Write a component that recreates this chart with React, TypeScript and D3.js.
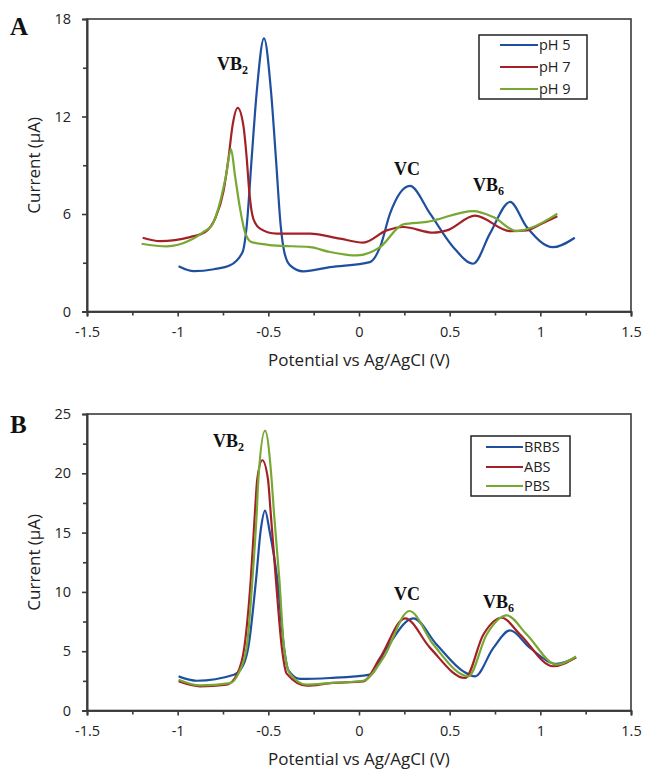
import React, { useEffect, useRef } from "react";
import * as d3 from "d3";

// ---------- Data ----------
const xTicks = [-1.5, -1, -0.5, 0, 0.5, 1, 1.5];
const xMinorTicks = [-1.25, -0.75, -0.25, 0.25, 0.75, 1.25];

const yTicksA = [0, 6, 12, 18];
const yMinorA = [3, 9, 15];
const yTicksB = [0, 5, 10, 15, 20, 25];
const yMinorB = [2.5, 7.5, 12.5, 17.5, 22.5];

const seriesNamesA = ["pH 5", "pH 7", "pH 9"];
const seriesNamesB = ["BRBS", "ABS", "PBS"];
const seriesColors = ["#1f4f9f", "#a32126", "#76a832"];

// Panel A
const pH5Potential = [-0.995, -0.91, -0.8, -0.711, -0.642, -0.619, -0.592, -0.564, -0.524, -0.485, -0.458, -0.432, -0.412, -0.38, -0.307, -0.16, 0.06, 0.116, 0.171, 0.281, 0.392, 0.52, 0.63, 0.722, 0.833, 0.925, 1.07, 1.19];
const pH5Current = [2.79, 2.48, 2.6, 2.84, 3.66, 5.3, 9.41, 13.52, 16.81, 13.52, 9.41, 5.3, 3.66, 2.84, 2.47, 2.73, 3.04, 3.96, 6.02, 7.73, 6.02, 3.96, 2.94, 4.79, 6.74, 5.2, 3.96, 4.54];

const pH7Potential = [-1.193, -1.097, -0.932, -0.849, -0.794, -0.748, -0.72, -0.697, -0.669, -0.638, -0.619, -0.605, -0.583, -0.546, -0.454, -0.27, -0.105, 0.024, 0.153, 0.244, 0.41, 0.484, 0.64, 0.833, 0.925, 0.998, 1.094];
const pH7Current = [4.54, 4.33, 4.58, 4.89, 5.71, 7.36, 9.41, 11.47, 12.53, 11.47, 9.41, 7.36, 5.71, 5.1, 4.79, 4.79, 4.48, 4.24, 4.99, 5.2, 4.85, 4.99, 5.9, 4.95, 4.99, 5.36, 5.86];

const pH9Potential = [-1.199, -1.06, -0.932, -0.859, -0.812, -0.776, -0.733, -0.706, -0.684, -0.656, -0.629, -0.592, -0.473, -0.27, -0.16, -0.013, 0.116, 0.244, 0.373, 0.63, 0.741, 0.87, 0.961, 1.094];
const pH9Current = [4.17, 4.01, 4.38, 4.89, 5.3, 6.33, 8.38, 9.99, 8.38, 6.33, 4.89, 4.27, 4.07, 3.96, 3.66, 3.45, 3.96, 5.36, 5.51, 6.18, 5.81, 4.95, 5.2, 6.02];

// Panel B
const brbsPotential = [-0.995, -0.895, -0.69, -0.656, -0.61, -0.568, -0.542, -0.518, -0.494, -0.45, -0.414, -0.39, -0.325, -0.16, 0.06, 0.153, 0.3, 0.428, 0.575, 0.64, 0.741, 0.833, 0.943, 1.09, 1.197];
const brbsCurrent = [2.88, 2.51, 3.02, 3.4, 5.36, 11.0, 15.2, 16.86, 15.2, 11.0, 5.36, 3.4, 2.66, 2.74, 3.02, 5.28, 7.77, 5.56, 3.3, 2.88, 5.28, 6.75, 5.28, 3.93, 4.49];

const absPotential = [-0.995, -0.877, -0.73, -0.671, -0.632, -0.597, -0.574, -0.561, -0.533, -0.502, -0.487, -0.458, -0.426, -0.399, -0.288, -0.16, 0.024, 0.116, 0.254, 0.392, 0.585, 0.686, 0.787, 0.888, 1.071, 1.197];
const absCurrent = [2.46, 2.03, 2.18, 3.11, 5.36, 11.0, 16.67, 19.5, 21.1, 19.5, 16.67, 11.0, 5.36, 3.11, 2.09, 2.31, 2.46, 4.43, 7.77, 5.28, 2.74, 6.41, 7.82, 6.41, 3.73, 4.49];

const pbsPotential = [-0.995, -0.877, -0.711, -0.665, -0.619, -0.588, -0.564, -0.555, -0.518, -0.482, -0.469, -0.439, -0.414, -0.381, -0.288, -0.16, 0.024, 0.134, 0.278, 0.41, 0.603, 0.704, 0.815, 0.925, 1.09, 1.197];
const pbsCurrent = [2.6, 2.12, 2.31, 3.11, 5.36, 11.0, 16.67, 19.5, 23.6, 19.5, 16.67, 11.0, 5.36, 3.11, 2.18, 2.31, 2.51, 4.43, 8.39, 5.56, 2.88, 6.41, 8.02, 6.41, 3.87, 4.55];

const seriesA = [
  { potential: pH5Potential, current: pH5Current },
  { potential: pH7Potential, current: pH7Current },
  { potential: pH9Potential, current: pH9Current },
];
const seriesB = [
  { potential: brbsPotential, current: brbsCurrent },
  { potential: absPotential, current: absCurrent },
  { potential: pbsPotential, current: pbsCurrent },
];

// annotations in data coordinates
const annotationsA = [
  { label: "VB", sub: "2", x: -0.783, y: 14.86 },
  { label: "VC", sub: "", x: 0.193, y: 8.38 },
  { label: "VB", sub: "6", x: 0.629, y: 7.4 },
];
const annotationsB = [
  { label: "VB", sub: "2", x: -0.805, y: 22.2 },
  { label: "VC", sub: "", x: 0.193, y: 9.32 },
  { label: "VB", sub: "6", x: 0.684, y: 8.64 },
];

const W = 646;
const H = 769;
const FONT = "'Open Sans', 'Noto Sans', sans-serif";
const SERIF = "'Liberation Serif', 'DejaVu Serif', serif";

type Panel = {
  letter: string;
  letterY: number;
  top: number;
  bottom: number;
  yMax: number;
  yTicks: number[];
  yMinor: number[];
  series: { potential: number[]; current: number[] }[];
  names: string[];
  annotations: { label: string; sub: string; x: number; y: number }[];
  legend: { x: number; y: number; w: number; h: number; rowY: number[]; lineX0: number; lineX1: number };
};

const panels: Panel[] = [
  {
    letter: "A",
    letterY: 34.5,
    top: 19,
    bottom: 311.5,
    yMax: 18,
    yTicks: yTicksA,
    yMinor: yMinorA,
    series: seriesA,
    names: seriesNamesA,
    annotations: annotationsA,
    legend: { x: 479, y: 35, w: 108, h: 64, rowY: [45, 67, 89], lineX0: 500, lineX1: 538 },
  },
  {
    letter: "B",
    letterY: 433,
    top: 414,
    bottom: 710.5,
    yMax: 25,
    yTicks: yTicksB,
    yMinor: yMinorB,
    series: seriesB,
    names: seriesNamesB,
    annotations: annotationsB,
    legend: { x: 471, y: 436, w: 99, h: 60, rowY: [447, 467, 486], lineX0: 486, lineX1: 523 },
  },
];

export default function App() {
  const ref = useRef<SVGSVGElement | null>(null);

  useEffect(() => {
    const svg = d3.select(ref.current);
    svg.selectAll("*").remove();
    const left = 87;
    const right = 631;
    const x = d3.scaleLinear().domain([-1.5, 1.5]).range([left, right]);

    panels.forEach((p) => {
      const y = d3.scaleLinear().domain([0, p.yMax]).range([p.bottom, p.top]);
      const g = svg.append("g");

      // frame
      g.append("rect")
        .attr("x", left)
        .attr("y", p.top)
        .attr("width", right - left)
        .attr("height", p.bottom - p.top)
        .attr("fill", "none")
        .attr("stroke", "#3a3a3a")
        .attr("stroke-width", 1.6);

      // x axis
      const xAxis = g.append("g").attr("transform", `translate(0,${p.bottom})`);
      xAxis.call(d3.axisBottom(x).tickValues(xTicks).tickSize(5).tickPadding(10).tickFormat((d) => String(d as number)));
      const xMinor = g.append("g").attr("transform", `translate(0,${p.bottom})`);
      xMinor.call(d3.axisBottom(x).tickValues(xMinorTicks).tickSize(4).tickFormat(() => ""));

      // y axis
      const yAxis = g.append("g").attr("transform", `translate(${left},0)`);
      yAxis.call(d3.axisLeft(y).tickValues(p.yTicks).tickSize(5).tickPadding(11));
      const yMinor = g.append("g").attr("transform", `translate(${left},0)`);
      yMinor.call(d3.axisLeft(y).tickValues(p.yMinor).tickSize(4).tickFormat(() => ""));

      [xAxis, xMinor, yAxis, yMinor].forEach((a) => {
        a.select(".domain").attr("stroke", "#3a3a3a").attr("stroke-width", 1.6);
        a.selectAll(".tick line").attr("stroke", "#3a3a3a").attr("stroke-width", 1.6);
        a.selectAll(".tick text")
          .attr("fill", "#222")
          .style("font-family", FONT)
          .style("font-size", "14.5px");
      });

      // axis titles
      g.append("text")
        .attr("x", (left + right) / 2)
        .attr("y", p.bottom + 54)
        .attr("text-anchor", "middle")
        .style("font-family", FONT)
        .style("font-size", "17px")
        .attr("fill", "#222")
        .text("Potential vs Ag/AgCl (V)");
      g.append("text")
        .attr("transform", `translate(40,${(p.top + p.bottom) / 2}) rotate(-90)`)
        .attr("text-anchor", "middle")
        .style("font-family", FONT)
        .style("font-size", "17px")
        .attr("fill", "#222")
        .text("Current (µA)");

      // panel letter
      g.append("text")
        .attr("x", 10)
        .attr("y", p.letterY)
        .style("font-family", SERIF)
        .style("font-size", "25px")
        .style("font-weight", "bold")
        .attr("fill", "#111")
        .text(p.letter);

      // lines
      const line = d3
        .line<[number, number]>()
        .x((d) => x(d[0]))
        .y((d) => y(d[1]))
        .curve(d3.curveMonotoneX);
      p.series.forEach((s, i) => {
        const pts: [number, number][] = s.potential.map((v, k) => [v, s.current[k]]);
        g.append("path")
          .attr("d", line(pts) || "")
          .attr("fill", "none")
          .attr("stroke", seriesColors[i])
          .attr("stroke-width", 2.2)
          .attr("stroke-linejoin", "round");
      });

      // annotations
      p.annotations.forEach((a) => {
        const t = g
          .append("text")
          .attr("x", x(a.x))
          .attr("y", y(a.y))
          .style("font-family", SERIF)
          .style("font-size", "18px")
          .style("font-weight", "bold")
          .attr("fill", "#111");
        t.append("tspan").text(a.label);
        if (a.sub) {
          t.append("tspan").attr("dy", 4).style("font-size", "12px").text(a.sub);
        }
      });

      // legend
      const L = p.legend;
      g.append("rect")
        .attr("x", L.x)
        .attr("y", L.y)
        .attr("width", L.w)
        .attr("height", L.h)
        .attr("fill", "white")
        .attr("stroke", "#222")
        .attr("stroke-width", 1.5);
      p.names.forEach((n, i) => {
        g.append("line")
          .attr("x1", L.lineX0)
          .attr("x2", L.lineX1)
          .attr("y1", L.rowY[i])
          .attr("y2", L.rowY[i])
          .attr("stroke", seriesColors[i])
          .attr("stroke-width", 2.2);
        g.append("text")
          .attr("x", L.lineX1 + 1)
          .attr("y", L.rowY[i])
          .attr("dy", "0.35em")
          .style("font-family", FONT)
          .style("font-size", "14.5px")
          .attr("fill", "#222")
          .text(n);
      });
    });
  }, []);

  return (
    <svg
      ref={ref}
      width={W}
      height={H}
      style={{ position: "absolute", left: 0, top: 0, background: "white" }}
    />
  );
}
